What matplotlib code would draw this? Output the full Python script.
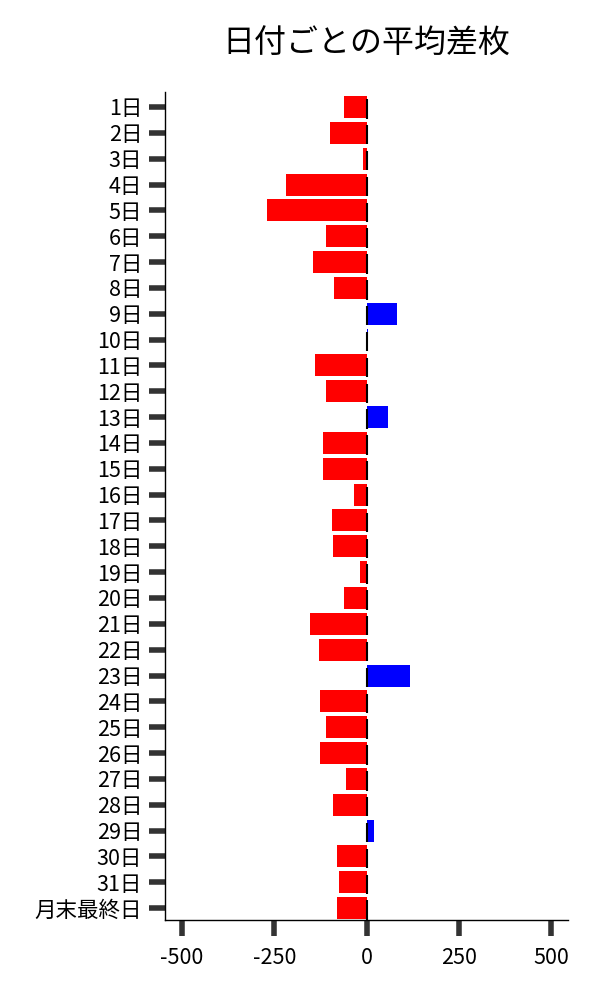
"""Average difference per day-of-month, horizontal bar chart."""

import matplotlib
matplotlib.use("Agg")
import matplotlib.pyplot as plt
import numpy as np

plt.rcParams["font.family"] = ["Noto Sans CJK JP", "DejaVu Sans"]

# categories and values
days = [f"{i}日" for i in range(1, 32)] + ["月末最終日"]
avg_diff = [
    -62, -100, -11, -217, -271, -111, -146, -87, 81, 5,
    -141, -111, 57, -119, -119, -33, -95, -90, -19, -60,
    -152, -130, 117, -127, -111, -125, -57, -90, 19, -79,
    -76, -81,
]
x_ticks = [-500, -250, 0, 250, 500]

vals = np.array(avg_diff, dtype=float)
pos = np.arange(len(days))
colors = ["blue" if v > 0 else "red" for v in vals]

fig = plt.figure(figsize=(6, 10), dpi=100)
ax = fig.add_axes([0.275, 0.08, 0.672, 0.828])

ax.barh(pos, vals, height=0.85, color=colors)
# thin zero markers drawn through each bar
ax.vlines(np.zeros_like(pos), pos - 0.3, pos + 0.45, color="black", linewidth=1.5)

ax.set_yticks(pos)
ax.set_yticklabels(days, fontsize=15.5)
ax.set_xticks(x_ticks)
ax.set_xticklabels([str(t) for t in x_ticks], fontsize=15.5)
ax.set_xlim(-546, 546)
ax.set_ylim(len(days) - 0.54, -0.58)

for side in ("top", "right"):
    ax.spines[side].set_visible(False)
ax.spines["left"].set_linewidth(1.0)
ax.spines["bottom"].set_linewidth(1.0)
ax.tick_params(axis="both", length=11.5, width=4, color="#333333")
ax.tick_params(axis="y", pad=5)
ax.tick_params(axis="x", pad=8)

ax.set_title("日付ごとの平均差枚", fontsize=23, pad=28)

fig.savefig("out.png", dpi=100)
